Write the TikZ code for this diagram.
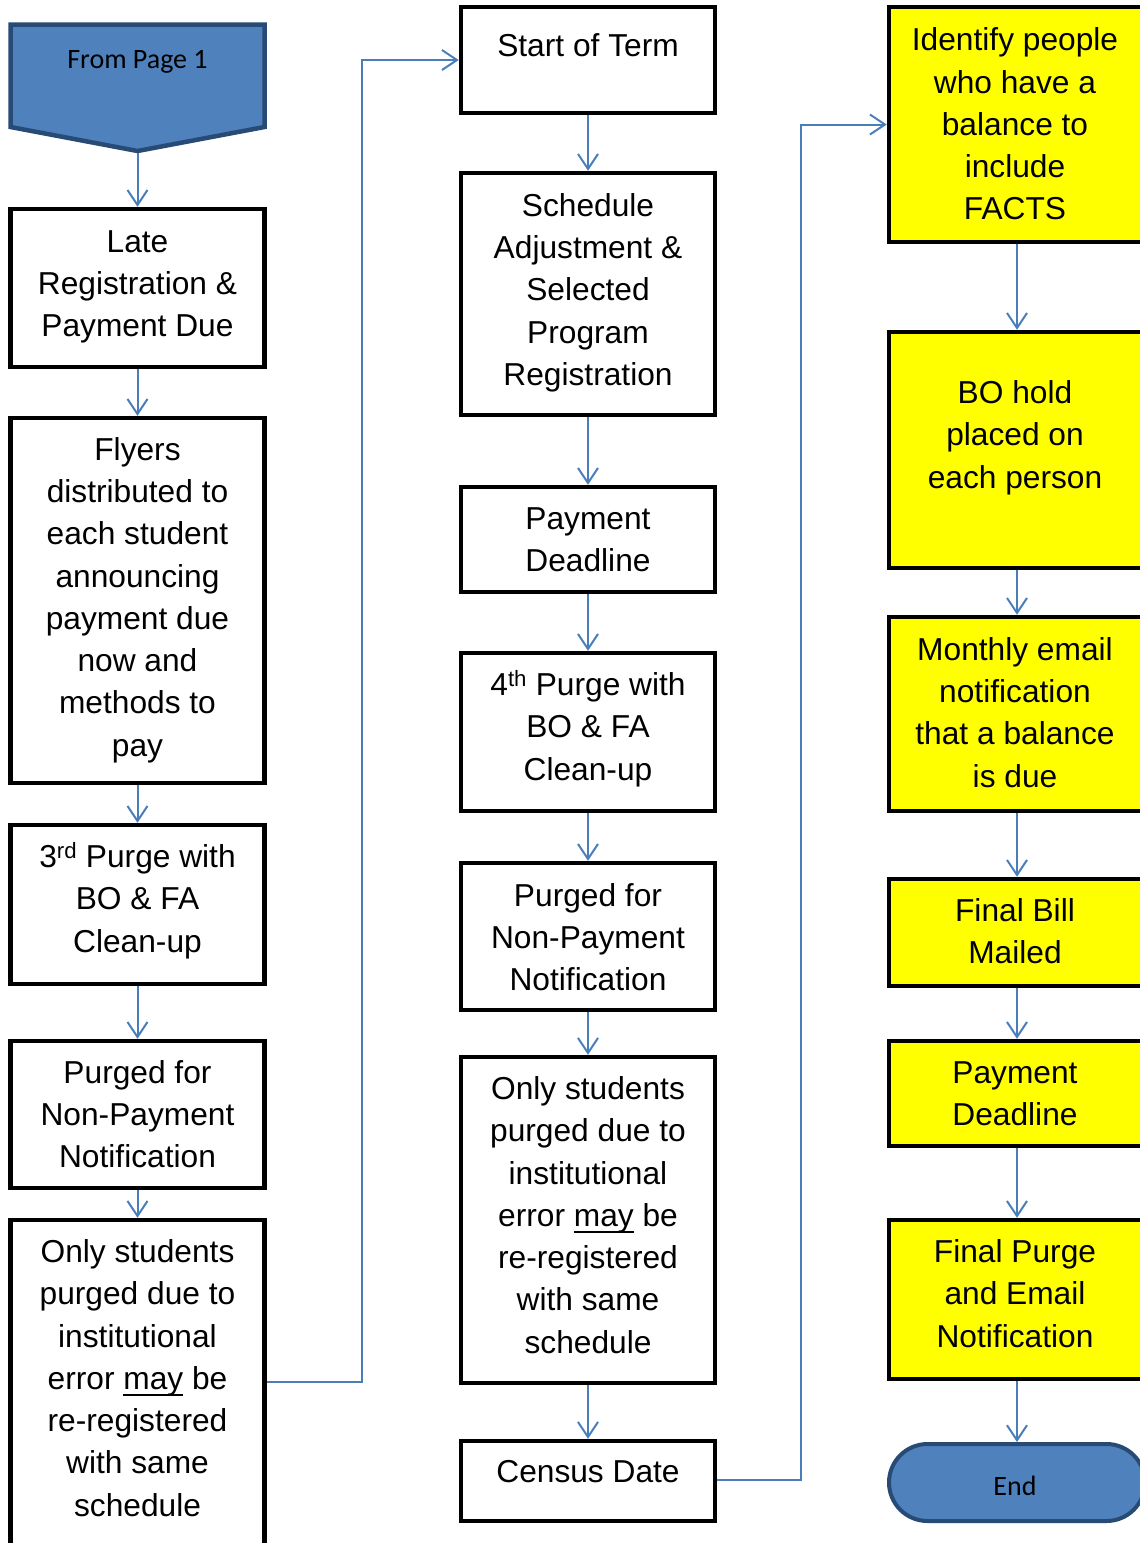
\documentclass[tikz,border=0pt]{standalone}
\usepackage{fontspec}
\setmainfont{Liberation Sans}
\newfontfamily\calibrifont{Carlito}
\usetikzlibrary{arrows.meta}
\definecolor{flowblue}{HTML}{4F81BD}
\definecolor{flowedge}{HTML}{284B76}
\definecolor{linkblue}{HTML}{4A7EBB}
\definecolor{hilite}{HTML}{FFFF00}
% heavier underline, set below the descenders
\newcommand\ulword[1]{\setbox0\hbox{#1}\rlap{\rule[-7pt]{\wd0}{2.3pt}}\box0\relax}

\begin{document}
\begin{tikzpicture}[x=1pt,y=-1pt,
  blk/.style={draw=black, line width=4.5pt, fill=white, minimum width=254pt, inner sep=0pt},
  ybk/.style={blk, fill=hilite, minimum width=256pt},
  txt/.style={align=center, inner sep=0pt, font=\fontsize{31.7}{42.3}\selectfont},
  termtxt/.style={inner sep=0pt, font=\calibrifont\fontsize{28}{32}\selectfont},
  conn/.style={draw=linkblue, line width=2pt, -{Straight Barb[length=15pt,width=20pt]}},
  link/.style={draw=linkblue, line width=2pt}]

\useasboundingbox (0,0) rectangle (1140,1543);
\clip (0,0) rectangle (1140,1543);

% ---------- left column ----------
\draw[draw=flowedge, fill=flowblue, line width=4.5pt, line join=miter]
  (10.5,24.5) -- (264.5,24.5) -- (264.5,127) -- (137.5,151) -- (10.5,127) -- cycle;
\coordinate (fptip) at (137.5,153);
\node[termtxt] (fp) at (137.5,62) {From Page 1};

\node[blk, minimum height=158pt] (L1) at (137.5,288) {};
\node[txt] (L1t) at (137.5,287) {Late\\Registration \&\\Payment Due};

\node[blk, minimum height=365pt] (L2) at (137.5,600.5) {};
\node[txt] (L2t) at (137.5,600) {Flyers\\distributed to\\each student\\announcing\\payment due\\now and\\methods to\\pay};

\node[blk, minimum height=159pt] (L3) at (137.5,904.5) {};
\node[txt] (L3t) at (137.5,900.5) {3\textsuperscript{rd} Purge with\\BO \& FA\\Clean-up};

\node[blk, minimum height=147pt] (L4) at (137.5,1114.5) {};
\node[txt] (L4t) at (137.5,1114) {Purged for\\Non-Payment\\Notification};

\node[blk, minimum height=340pt] (L5) at (137.5,1390) {};
\node[txt] (L5t) at (137.5,1378) {Only students\\purged due to\\institutional\\error \ulword{may} be\\re-registered\\with same\\schedule};

% ---------- middle column ----------
\node[blk, minimum height=106pt] (M1) at (588,60) {};
\node[txt] (M1t) at (588,45) {Start of Term};

\node[blk, minimum height=242pt] (M2) at (588,294) {};
\node[txt] (M2t) at (588,292.5) {Schedule\\Adjustment \&\\Selected\\Program\\Registration};

\node[blk, minimum height=105pt] (M3) at (588,539.5) {};
\node[txt] (M3t) at (588,540) {Payment\\Deadline};

\node[blk, minimum height=158pt] (M4) at (588,732) {};
\node[txt] (M4t) at (588,728.5) {4\textsuperscript{th} Purge with\\BO \& FA\\Clean-up};

\node[blk, minimum height=147pt] (M5) at (588,936.5) {};
\node[txt] (M5t) at (588,937) {Purged for\\Non-Payment\\Notification};

\node[blk, minimum height=326pt] (M6) at (588,1220) {};
\node[txt] (M6t) at (588,1215) {Only students\\purged due to\\institutional\\error \ulword{may} be\\re-registered\\with same\\schedule};

\node[blk, minimum height=80pt] (M7) at (588,1481) {};
\node[txt] (M7t) at (588,1472) {Census Date};

% ---------- right column ----------
\node[ybk, minimum height=235pt] (R1) at (1017,124.5) {};
\node[txt] (R1t) at (1015,124) {Identify people\\who have a\\balance to\\include\\FACTS};

\node[ybk, minimum height=236pt] (R2) at (1017,450) {};
\node[txt] (R2t) at (1015,437.5) {BO hold\\placed on\\each person};

\node[ybk, minimum height=194pt] (R3) at (1017,714) {};
\node[txt] (R3t) at (1015,712.5) {Monthly email\\notification\\that a balance\\is due};

\node[ybk, minimum height=107pt] (R4) at (1017,932.5) {};
\node[txt] (R4t) at (1015,931) {Final Bill\\Mailed};

\node[ybk, minimum height=105pt] (R5) at (1017,1093.5) {};
\node[txt] (R5t) at (1015,1094) {Payment\\Deadline};

\node[ybk, minimum height=159pt] (R6) at (1017,1299.5) {};
\node[txt] (R6t) at (1015,1293.5) {Final Purge\\and Email\\Notification};

\node[draw=flowedge, fill=flowblue, line width=4pt, rounded corners=38.5pt,
      minimum width=256pt, minimum height=77pt, inner sep=0pt] (endn) at (1017,1482.5) {};
\node[termtxt] (endt) at (1015,1486) {End};

% ---------- connectors ----------
\draw[conn] (fptip) -- (L1.north);
\draw[conn] (L1.south) -- (L2.north);
\draw[conn] (L2.south) -- (L3.north);
\draw[conn] (L3.south) -- (L4.north);
\draw[conn] (L4.south) -- (L5.north);

\coordinate (j1) at (362,1382);
\draw[conn] (L5.east |- j1) -- (j1) -- (j1 |- M1.west) -- (M1.west);

\draw[conn] (M1.south) -- (M2.north);
\draw[conn] (M2.south) -- (M3.north);
\draw[conn] (M3.south) -- (M4.north);
\draw[conn] (M4.south) -- (M5.north);
\draw[conn] (M5.south) -- (M6.north);
\draw[conn] (M6.south) -- (M7.north);

\coordinate (j2) at (801,1480);
\draw[conn] (M7.east |- j2) -- (j2) -- (j2 |- R1.west) -- (R1.west);

\draw[conn] (R1.south) -- (R2.north);
\draw[conn] (R2.south) -- (R3.north);
\draw[conn] (R3.south) -- (R4.north);
\draw[conn] (R4.south) -- (R5.north);
\draw[conn] (R5.south) -- (R6.north);
\draw[conn] (R6.south) -- (endn.north);
\end{tikzpicture}
\end{document}
